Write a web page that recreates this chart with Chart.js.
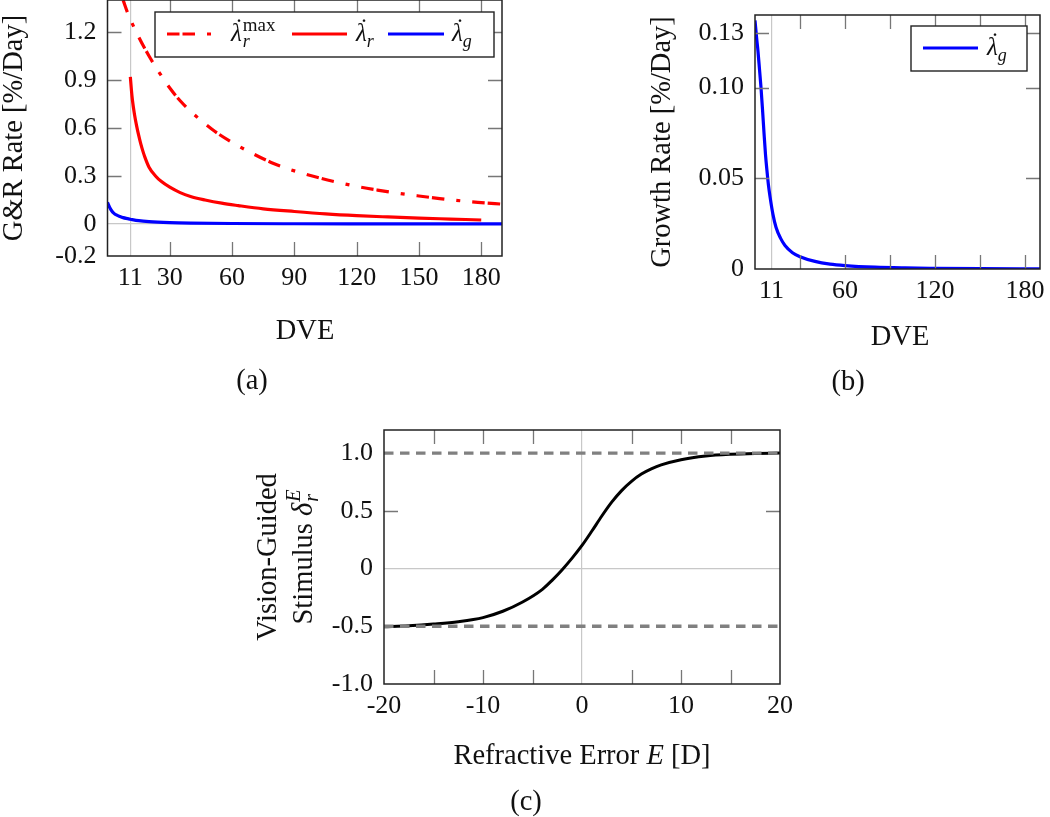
<!DOCTYPE html>
<html>
<head>
<meta charset="utf-8">
<script src="https://cdn.jsdelivr.net/npm/chart.js@4.4.1/dist/chart.umd.min.js"></script>
<style>
  html, body { margin: 0; padding: 0; background: #fff; }
  #app { position: relative; width: 1050px; height: 817px; overflow: hidden; background: #fff; }
  #app canvas { position: absolute; }
</style>
</head>
<body>
<div id="app"></div>
<script>
// (a) G&R rates against days of visual experience (DVE)
const dveMax = [5, 7.5, 10, 15, 20, 25, 30, 35, 40, 50, 60, 70, 80, 90, 100, 110, 120, 130, 140, 150, 160, 170, 180, 190]
const rateMax = [1.49, 1.40, 1.31, 1.17, 1.05, 0.945, 0.85, 0.77, 0.705, 0.595, 0.51, 0.44, 0.378, 0.332, 0.295, 0.263, 0.235, 0.212, 0.192, 0.175, 0.159, 0.145, 0.134, 0.124]
const dveRem = [11, 11.5, 12, 13, 14, 15, 16, 17, 18, 20, 23, 26, 30, 35, 40, 47, 55, 63, 75, 90, 105, 120, 135, 150, 165, 180]
const rateRem = [0.92, 0.84, 0.775, 0.685, 0.615, 0.555, 0.502, 0.457, 0.418, 0.355, 0.302, 0.265, 0.23, 0.196, 0.172, 0.15, 0.13, 0.115, 0.095, 0.078, 0.063, 0.052, 0.044, 0.037, 0.031, 0.025]
const dveGrowthA = [0, 1, 2, 3, 4.5, 6, 7.5, 9, 11, 15, 20, 30, 40, 60, 90, 120, 190]
const growthA = [0.135, 0.105, 0.083, 0.068, 0.055, 0.047, 0.04, 0.035, 0.03, 0.021, 0.015, 0.009, 0.006, 0.003, 0.0015, 0.001, 0.0005]
const ticksAX = [11, 30, 60, 90, 120, 150, 180]
const ticksAY = [-0.2, 0, 0.3, 0.6, 0.9, 1.2]

// (b) growth rate only
const dveGrowthB = [0, 1, 2, 3, 4, 5, 6, 7, 8, 9, 10, 12, 14, 17, 20, 25, 30, 40, 50, 60, 80, 100, 120, 150, 190]
const growthB = [0.137, 0.128, 0.12, 0.11, 0.1, 0.088, 0.075, 0.063, 0.054, 0.046, 0.04, 0.03, 0.023, 0.017, 0.013, 0.009, 0.0068, 0.0042, 0.0027, 0.0019, 0.001, 0.0006, 0.0004, 0.0002, 0.0001]
const ticksBX = [11, 60, 120, 180]
const marksBX = [30, 60, 90, 120, 150, 180]
const ticksBY = [0, 0.05, 0.10, 0.13]

// (c) vision-guided stimulus against refractive error
const refrErr = [-20, -17.5, -15, -12.5, -10, -8, -6, -4, -3, -2, -1, 0, 1, 2, 3, 4, 5, 6, 7, 8, 10, 12.5, 15, 17.5, 20]
const stimulus = [-0.505, -0.495, -0.48, -0.46, -0.425, -0.37, -0.29, -0.18, -0.1, -0.01, 0.09, 0.2, 0.325, 0.455, 0.575, 0.675, 0.755, 0.818, 0.863, 0.898, 0.943, 0.975, 0.99, 0.997, 1.0]
const boundX = [-20, 20]
const upperBound = [1.0, 1.0]
const lowerBound = [-0.5, -0.5]
const ticksCX = [-20, -10, 0, 10, 20]
const marksCX = [-15, -10, -5, 5, 10, 15]
const ticksCY = [-1.0, -0.5, 0, 0.5, 1.0]

const app = document.getElementById("app")
const SERIF = '"Liberation Serif", "Times New Roman", serif'
const RED = 'rgb(255,0,0)'
const BLUE = 'rgb(0,0,255)'
const GRID = '#c8c8c8'
const TITLE = 28.5

function font(size, italic){
    return (italic ? 'italic ' : '') + size + 'px ' + SERIF
}

function points(xs, ys){
    return xs.map((x, i) => ({x: x, y: ys[i]}))
}

function fixTicks(values){
    return scale => { scale.ticks = values.map(v => ({value: v})) }
}

// text made of pieces, sub/superscripts can be stacked on the same x
function drawRich(ctx, parts, x, y, align){
    let cursor = 0, lastStart = 0, lastEnd = 0
    const placed = parts.map(p => {
        ctx.font = p.font
        const w = ctx.measureText(p.text).width
        let start
        if (p.stack){
            start = lastStart
            lastEnd = Math.max(lastEnd, start + w)
        } else {
            start = cursor + (p.dx || 0)
            lastStart = start
            lastEnd = start + w
        }
        cursor = lastEnd
        return {p: p, start: start, w: w}
    })
    const off = align === 'center' ? -cursor / 2 : (align === 'right' ? -cursor : 0)
    ctx.textAlign = 'left'
    for (const it of placed){
        ctx.font = it.p.font
        ctx.fillStyle = '#111'
        ctx.fillText(it.p.text, x + off + it.start, y + (it.p.dy || 0))
        if (it.p.dot){
            ctx.textAlign = 'center'
            ctx.fillText('\u02D9', x + off + it.start + it.w / 2 + it.p.dot[0], y + (it.p.dy || 0) + it.p.dot[1])
            ctx.textAlign = 'left'
        }
    }
}

function plain(t){ return [{text: t, font: font(TITLE)}] }

// frame, inward tick marks, legend box and titles
const deco = {
    id: 'deco',
    afterDatasetsDraw(chart, args, o){
        const ctx = chart.ctx
        const a = chart.chartArea
        const xs = chart.scales.x
        const ys = chart.scales.y
        ctx.save()
        ctx.strokeStyle = '#777'
        ctx.lineWidth = 1.3
        ctx.beginPath()
        for (const v of (o.xMarks || [])){
            const px = Math.round(xs.getPixelForValue(v)) + 0.5
            ctx.moveTo(px, a.bottom)
            ctx.lineTo(px, a.bottom - 14)
            ctx.moveTo(px, a.top)
            ctx.lineTo(px, a.top + 14)
        }
        for (const v of (o.yMarks || [])){
            const py = Math.round(ys.getPixelForValue(v)) + 0.5
            ctx.moveTo(a.left, py)
            ctx.lineTo(a.left + 14, py)
            ctx.moveTo(a.right, py)
            ctx.lineTo(a.right - 14, py)
        }
        ctx.stroke()

        ctx.strokeStyle = '#222'
        ctx.lineWidth = 1.5
        ctx.strokeRect(a.left, a.top, a.right - a.left, a.bottom - a.top)

        if (o.legend){
            const L = o.legend
            ctx.fillStyle = '#fff'
            ctx.fillRect(L.box[0], L.box[1], L.box[2], L.box[3])
            ctx.strokeStyle = '#222'
            ctx.lineWidth = 1.4
            ctx.strokeRect(L.box[0], L.box[1], L.box[2], L.box[3])
            for (const it of L.items){
                const ds = chart.data.datasets[it.dataset]
                ctx.strokeStyle = ds.borderColor
                ctx.lineWidth = ds.borderWidth
                ctx.setLineDash(ds.borderDash || [])
                ctx.beginPath()
                ctx.moveTo(it.x1, L.y)
                ctx.lineTo(it.x2, L.y)
                ctx.stroke()
                ctx.setLineDash([])
                ctx.textBaseline = 'alphabetic'
                drawRich(ctx, it.label, it.lx, L.base, 'left')
            }
        }

        for (const t of (o.titles || [])){
            ctx.save()
            ctx.translate(t.x, t.y)
            if (t.rotate) ctx.rotate(-Math.PI / 2)
            ctx.textBaseline = 'middle'
            drawRich(ctx, t.parts, 0, 0, 'center')
            ctx.restore()
        }
        ctx.restore()
    }
}

function makeCanvas(left, top, w, h){
    const c = document.createElement("canvas")
    c.width = w
    c.height = h
    c.style.left = left + 'px'
    c.style.top = top + 'px'
    c.style.width = w + 'px'
    c.style.height = h + 'px'
    app.appendChild(c)
    return c
}

// fixed-size axis: labels stay inside the box Chart.js clips them to
function axis(min, max, tickValues, gridAt, fmt, horizontal){
    return {
        type: 'linear',
        min: min,
        max: max,
        afterBuildTicks: fixTicks(tickValues),
        afterFit: s => {
            if (horizontal) s.height = 40
            else s.width = 100
            s.paddingLeft = 0
            s.paddingRight = 0
            s.paddingTop = 0
            s.paddingBottom = 0
        },
        ticks: {
            font: {family: SERIF, size: 26},
            color: '#111',
            padding: horizontal ? 7 : 11,
            autoSkip: false,
            maxRotation: 0,
            callback: fmt
        },
        grid: {
            drawTicks: false,
            lineWidth: 1.2,
            color: c => (c.tick && gridAt.indexOf(c.tick.value) >= 0) ? GRID : 'rgba(0,0,0,0)'
        },
        border: {display: false}
    }
}

function baseOptions(padding){
    return {
        responsive: false,
        animation: false,
        devicePixelRatio: 1,
        layout: {padding: padding},
        elements: {
            point: {radius: 0},
            line: {cubicInterpolationMode: 'monotone', fill: false, borderCapStyle: 'butt'}
        },
        plugins: {legend: {display: false}, tooltip: {enabled: false}}
    }
}

function lambdaLabel(sub, sup){
    const parts = [{text: 'λ', font: font(25, true), dot: [1, -5]}]
    if (sup) parts.push({text: sup, font: font(19), dy: -10, dx: 1})
    parts.push({text: sub, font: font(18, true), dy: 6, stack: !!sup})
    return parts
}

function fmt1(v){ return v === 0 ? '0' : v.toFixed(1) }
function fmt2(v){ return v === 0 ? '0' : v.toFixed(2) }
function fmt0(v){ return String(v) }

function createPanelA(){
    const canvas = makeCanvas(0, 0, 520, 400)
    const opts = baseOptions({left: 7.5, right: 18, top: 0, bottom: 104})
    opts.scales = {
        x: axis(0, 190, ticksAX, [11], fmt0, true),
        y: axis(-0.2, 1.4, ticksAY, [0], fmt1, false)
    }
    opts.plugins.deco = {
        xMarks: [30, 60, 90, 120, 150, 180],
        yMarks: [0.3, 0.6, 0.9, 1.2],
        legend: {
            box: [155, 12, 339, 45], y: 34, base: 41,
            items: [
                {dataset: 0, x1: 167, x2: 212, lx: 231, label: lambdaLabel('r', 'max')},
                {dataset: 1, x1: 292, x2: 347, lx: 356, label: lambdaLabel('r')},
                {dataset: 2, x1: 388, x2: 444, lx: 452, label: lambdaLabel('g')}
            ]
        },
        titles: [
            {x: 15, y: 128, rotate: true, parts: plain('G&R Rate [%/Day]')},
            {x: 305, y: 332, parts: plain('DVE')},
            {x: 252, y: 382, parts: plain('(a)')}
        ]
    }
    new Chart(canvas.getContext("2d"), {
        type: 'line',
        data: {
            datasets: [
                {label: 'λ̇r max', data: points(dveMax, rateMax), borderColor: RED, borderWidth: 3.2, borderDash: [12.5, 3, 12.5, 12, 4, 12]},
                {label: 'λ̇r', data: points(dveRem, rateRem), borderColor: RED, borderWidth: 3.2},
                {label: 'λ̇g', data: points(dveGrowthA, growthA), borderColor: BLUE, borderWidth: 3.2}
            ]
        },
        options: opts,
        plugins: [deco]
    })
}

function createPanelB(){
    const canvas = makeCanvas(520, 0, 530, 400)
    const opts = baseOptions({left: 135, right: 10, top: 15, bottom: 91})
    opts.scales = {
        x: axis(0, 190, ticksBX, [11], fmt0, true),
        y: axis(0, 0.14, ticksBY, [], fmt2, false)
    }
    opts.plugins.deco = {
        xMarks: marksBX,
        yMarks: [0.05, 0.10, 0.13],
        legend: {
            box: [391, 26, 116, 45], y: 48, base: 55,
            items: [
                {dataset: 0, x1: 403, x2: 458, lx: 467, label: lambdaLabel('g')}
            ]
        },
        titles: [
            {x: 143, y: 142, rotate: true, parts: plain('Growth Rate [%/Day]')},
            {x: 380, y: 338, parts: plain('DVE')},
            {x: 328, y: 383, parts: plain('(b)')}
        ]
    }
    new Chart(canvas.getContext("2d"), {
        type: 'line',
        data: {
            datasets: [
                {label: 'λ̇g', data: points(dveGrowthB, growthB), borderColor: BLUE, borderWidth: 3.2}
            ]
        },
        options: opts,
        plugins: [deco]
    })
}

function createPanelC(){
    const canvas = makeCanvas(200, 410, 650, 407)
    const opts = baseOptions({left: 84, right: 70, top: 20, bottom: 93})
    opts.scales = {
        x: axis(-20, 20, ticksCX, [0], fmt0, true),
        y: axis(-1, 1.2, ticksCY, [0], fmt1, false)
    }
    opts.plugins.deco = {
        xMarks: marksCX,
        yMarks: [0.5],
        titles: [
            {x: 69, y: 147, rotate: true, parts: plain('Vision-Guided')},
            {x: 105, y: 147, rotate: true, parts: [
                {text: 'Stimulus ', font: font(TITLE)},
                {text: 'δ', font: font(TITLE, true)},
                {text: 'E', font: font(20, true), dy: -10, dx: 1},
                {text: 'r', font: font(20, true), dy: 8, stack: true}
            ]},
            {x: 382, y: 347, parts: [
                {text: 'Refractive Error ', font: font(TITLE)},
                {text: 'E', font: font(TITLE, true)},
                {text: ' [D]', font: font(TITLE)}
            ]},
            {x: 326, y: 393, parts: plain('(c)')}
        ]
    }
    const dash = {borderColor: '#808080', borderWidth: 3.3, borderDash: [9.5, 6.5]}
    new Chart(canvas.getContext("2d"), {
        type: 'line',
        data: {
            datasets: [
                Object.assign({label: 'upper bound', data: points(boundX, upperBound)}, dash),
                Object.assign({label: 'lower bound', data: points(boundX, lowerBound)}, dash),
                {label: 'δrE', data: points(refrErr, stimulus), borderColor: '#000', borderWidth: 3}
            ]
        },
        options: opts,
        plugins: [deco]
    })
}

function main(){
    createPanelA()
    createPanelB()
    createPanelC()
}

main()
</script>
</body>
</html>
